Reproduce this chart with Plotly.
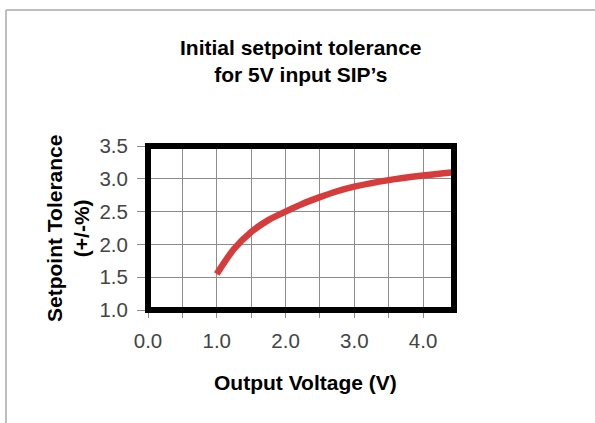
import plotly.graph_objects as go

# Data
voltage = [1.0, 1.25, 1.5, 1.75, 2.0, 2.25, 2.5, 2.75, 3.0, 3.5, 4.0, 4.45]
tolerance = [1.55, 1.93, 2.19, 2.37, 2.50, 2.62, 2.72, 2.81, 2.88, 2.98, 3.05, 3.10]

x_tick_vals = [0.0, 0.5, 1.0, 1.5, 2.0, 2.5, 3.0, 3.5, 4.0]
x_tick_text = ["0.0", "", "1.0", "", "2.0", "", "3.0", "", "4.0"]
y_tick_vals = [1.0, 1.5, 2.0, 2.5, 3.0, 3.5]
y_tick_text = ["1.0", "1.5", "2.0", "2.5", "3.0", "3.5"]

title_text = "<b>Initial setpoint tolerance<br>for 5V input SIP\u2019s</b>"
x_title = "<b>Output Voltage (V)</b>"
y_title = "<b>Setpoint Tolerance<br>(+/-%)</b>"

FONT = "Liberation Sans, Arial, Helvetica, sans-serif"

fig = go.Figure()
fig.add_trace(go.Scatter(
    x=voltage, y=tolerance, mode="lines",
    line=dict(color="#d63c3c", width=6.5, shape="spline", smoothing=0.8),
    hoverinfo="skip", showlegend=False,
))

W, H = 595, 423
L, T = 148, 146
pw, ph = 306, 164
R, B = W - L - pw, H - T - ph

def px_x(p):
    return (p - L) / pw

def px_y(p):
    return (T + ph - p) / ph

fig.update_layout(
    width=W, height=H,
    margin=dict(l=L, r=R, t=T, b=B),
    paper_bgcolor="white", plot_bgcolor="white",
    font=dict(family=FONT, color="#444444"),
    showlegend=False,
    xaxis=dict(
        range=[0, 4.45], tickvals=x_tick_vals, ticktext=x_tick_text,
        showgrid=True, gridcolor="#8c8c8c", gridwidth=1,
        ticks="outside", ticklen=7, tickcolor="#8c8c8c", tickwidth=1,
        tickfont=dict(size=20.5, color="#444444"),
        ticklabelstandoff=5,
        zeroline=False, showline=False, fixedrange=True,
    ),
    yaxis=dict(
        range=[1.0, 3.5], tickvals=y_tick_vals, ticktext=y_tick_text,
        showgrid=True, gridcolor="#8c8c8c", gridwidth=1,
        ticks="outside", ticklen=10, tickcolor="#8c8c8c", tickwidth=1,
        tickfont=dict(size=20.5, color="#444444"),
        ticklabelstandoff=5,
        zeroline=False, showline=False, fixedrange=True,
    ),
    shapes=[
        dict(type="rect", xref="paper", yref="paper", x0=0, y0=0, x1=1, y1=1,
             line=dict(color="black", width=6), layer="above"),
        dict(type="line", xref="paper", yref="paper",
             x0=px_x(6), y0=px_y(10), x1=px_x(600), y1=px_y(10),
             line=dict(color="#a8a8a8", width=1.5)),
        dict(type="line", xref="paper", yref="paper",
             x0=px_x(6), y0=px_y(10), x1=px_x(6), y1=px_y(430),
             line=dict(color="#a8a8a8", width=1.5)),
    ],
    annotations=[
        dict(text=title_text, xref="paper", yref="paper",
             x=px_x(301), y=px_y(61), xanchor="center", yanchor="middle",
             showarrow=False, font=dict(size=21, color="black", family=FONT)),
        dict(text=x_title, xref="paper", yref="paper",
             x=px_x(305), y=px_y(382), xanchor="center", yanchor="middle",
             showarrow=False, font=dict(size=21, color="black", family=FONT)),
        dict(text=y_title, xref="paper", yref="paper", textangle=-90,
             x=px_x(68), y=px_y(229), xanchor="center", yanchor="middle",
             showarrow=False, font=dict(size=21, color="black", family=FONT)),
    ],
)

fig.write_html("out.html", config={"displayModeBar": False},
               post_script="document.body.style.margin='0';")
